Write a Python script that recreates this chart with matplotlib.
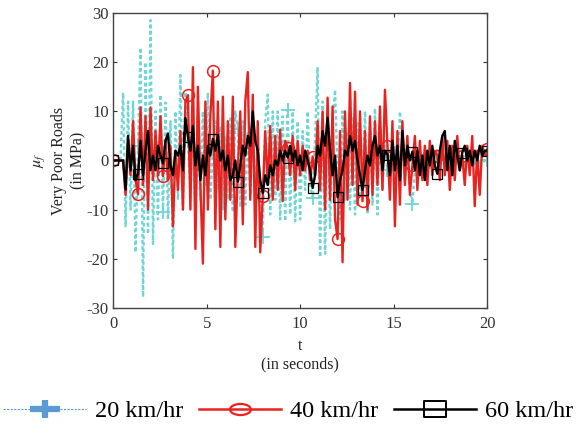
import numpy as np
import matplotlib
matplotlib.use("Agg")
import matplotlib.pyplot as plt
from matplotlib.lines import Line2D
from matplotlib.path import Path
from matplotlib.transforms import Affine2D

plt.rcParams['font.family'] = ['Liberation Serif', 'DejaVu Serif']
plt.rcParams['mathtext.fontset'] = 'stix'
plt.rcParams['axes.unicode_minus'] = False

# time grid: 0..20 s, 151 samples
t = np.linspace(0, 20, 151)

v20 = [0, 0, 0, 0.5, 13.8, -13.4, 12, -10, 12, -18.7,
       3, 23, -27.8, 20, -15, 28.6, -17, 10, -12, 13.4,
       -10.4, 11.8, -12, 8, -20, 10, -8, 17.4, -10, 14,
       4, -6, 8, -12, 6, -8, 10, -5, 13.8, -8,
       2, 8, -6, 7, -10, 5, -8, 9, -10.5, 10,
       6.5, -9.5, 8, -9, 6, -7, 7, -8, 5, -10,
       -15.6, 8, 13.4, -11, 10, -8, 10, -12, 9, -12.4,
       10.3, -11, 10, -12.4, 8, -12, 6, -6, 10, -5,
       -7.7, 5, 19, -19.7, 12, -19, 10, -14, 8, 14.4,
       -3, -12, 10, -8, 6, -10, 9, -11, 8, -7,
       -5.5, 10, -11, 8, -9, 10.6, -11, 8, -6, 4,
       -2, 2, -1, 3, -2, 10, 4, -4, 2, -6,
       -8.9, -2, 1, -1, 1.5, -1, 1, -1.5, 1, -1,
       1, -1, 1.5, -1, 1, -1, 1, -1.5, 1, -1,
       1, -1, 1, -1, 1.5, -1, 1, -1, 1, -0.5, 0]

v40 = [0, 0, 0, 0, 0, -7, 4, -3, 8, -4,
       -6.9, 10.8, -5, 9, -10, 10.8, -4, 6, -3, 9,
       -3.2, 4, -4, 3, -13.4, 2, -6, 6, -10, 12,
       13.3, -10, 19, -18, 15, -5, -21, 12, -10, 9,
       18.3, -14, 12, -17.6, 13, -12, 8, -8, 13, -17.6,
       -2, 10, -13, 12, 18, -8, 13.4, -17.6, 8, -18.7,
       -7.3, 6, -5, 7, -8, 5, -6, 6.3, -8.3, 4,
       2.6, -3, 5, -6, 4, -3, 3, -2, 2, -4,
       0.8, -3, 8, -6, 10, -10, 12.8, -8, 11, -12,
       -16, 6, -20.7, 10, -8, 15.8, -5, 14, -9, 10,
       -8.3, 6, -10, 9, -7, 8, -5, 11, -6, 14.4,
       3, -8, 8, -13.4, 6, -9, 8, -5, 5, -7,
       -1, 5, -6, 4, -4, 3, -5, 4, -3, 2,
       1, -4, 5, -3, 4, -6, 3, -4, 5, -2,
       1, -5, 3, -3, 5, -9.3, 2, -7, 3, 1, 2.3]

v60 = [0, 0, 0, 0, 0, -5.9, 5, -2, 3, -4,
       -2.7, 4, -3, 2, 6, -2, 1, -2, 3, 1,
       -0.6, 4, 5.5, -1, -3, 2, 1, 3, -2, 8.7,
       4.8, 2, 7, -1, 3, -4, 1, -3, 3, 1,
       4.4, 2, 5, 0, 2, -2, 1, -4, -3, 0,
       -4.3, -1, 3, 1, 5, 3, 10, 4, 2, -4,
       -6.6, -3, -5, -1, -3, 0, -1, 2, 0, 2,
       0.6, 3, 0, 2, -1, 1, -2, 2, 0, -2,
       -5.6, -3, 3, 1, 6, 3, 8.7, 2, -3, 1,
       -7.5, -4, -2, 2, 1, 5, 2, 4, 0, -3,
       -6, -2, 1, -1, 3, 5, 1, 3, -2, 2,
       1.2, -3, 4, -2, 3, -4, 6, -1, 3, 0,
       1.8, -2, 2, -3, 1, -4, 2, -1, 3, -1,
       -2.7, 2, 5, 6, -2, 3, -3, 4, 1, -2,
       1.6, 3, 0, 2, -1, 2, 0, 3, 1, 2, 2]

labels = ['20 km/hr', '40 km/hr', '60 km/hr']
xticks = [0, 5, 10, 15, 20]
yticks = [-30, -20, -10, 0, 10, 20, 30]

fig = plt.figure(figsize=(5.8, 4.24), dpi=100)
ax = fig.add_axes([0.195, 0.274, 0.645, 0.695])

cyan = '#6fd6d6'
red = '#e8231f'

ax.plot(t, v20, color=cyan, lw=1.7, ls=(0, (1.5, 1.2)), marker='+', ms=10,
        mew=1.3, markevery=10)
ax.plot(t, v40, color=red, lw=1.7, marker='o', ms=8.5, mfc='none', mew=1.1,
        markevery=10)
ax.plot(t, v60, color='black', lw=1.7, marker='s', ms=7, mfc='none', mew=0.9,
        markevery=10)

ax.set_xlim(0, 20)
ax.set_ylim(-30, 30)
ax.set_xticks(xticks)
ax.set_yticks(yticks)
ax.tick_params(direction='in', top=True, right=True, length=3, width=0.8,
               labelsize=12, colors='#333333', pad=6)
ax.tick_params(axis='y', pad=3)
for s in ax.spines.values():
    s.set_color('#444444')
    s.set_linewidth(1.0)

ax.set_xlabel('t\n(in seconds)', fontsize=11.5, color='#222222', linespacing=1.25)
ax.set_ylabel('$\\mu_f$\nVery Poor Roads\n(in MPa)', fontsize=11.5,
              color='#222222', labelpad=0, linespacing=1.3)

plus_wide = Path([(-1.3, 0), (1.3, 0), (0, -0.75), (0, 0.75)],
                 [Path.MOVETO, Path.LINETO, Path.MOVETO, Path.LINETO])
ell = Path.unit_circle().transformed(Affine2D().scale(1.5, 0.8))
rect_wide = Path([(-1.35, -1), (1.35, -1), (1.35, 1), (-1.35, 1), (-1.35, -1)],
                 [Path.MOVETO, Path.LINETO, Path.LINETO, Path.LINETO, Path.CLOSEPOLY])
handles = [
    Line2D([], [], color='#5b9bd5', lw=0.8, ls=(0, (2, 1.2)), marker=plus_wide,
           ms=22, mew=4.5),
    Line2D([], [], color=red, lw=1.8, marker=ell, ms=15, mfc='none', mew=1.6),
    Line2D([], [], color='black', lw=1.8, marker=rect_wide, ms=16, mfc='none', mew=1.4),
]
fig.legend(handles, labels, loc='center', bbox_to_anchor=(0.497, 0.03), ncol=3,
           frameon=False, fontsize=17.5, handlelength=3.4, handletextpad=0.35,
           columnspacing=0.65)

fig.savefig('out.png', dpi=100)
